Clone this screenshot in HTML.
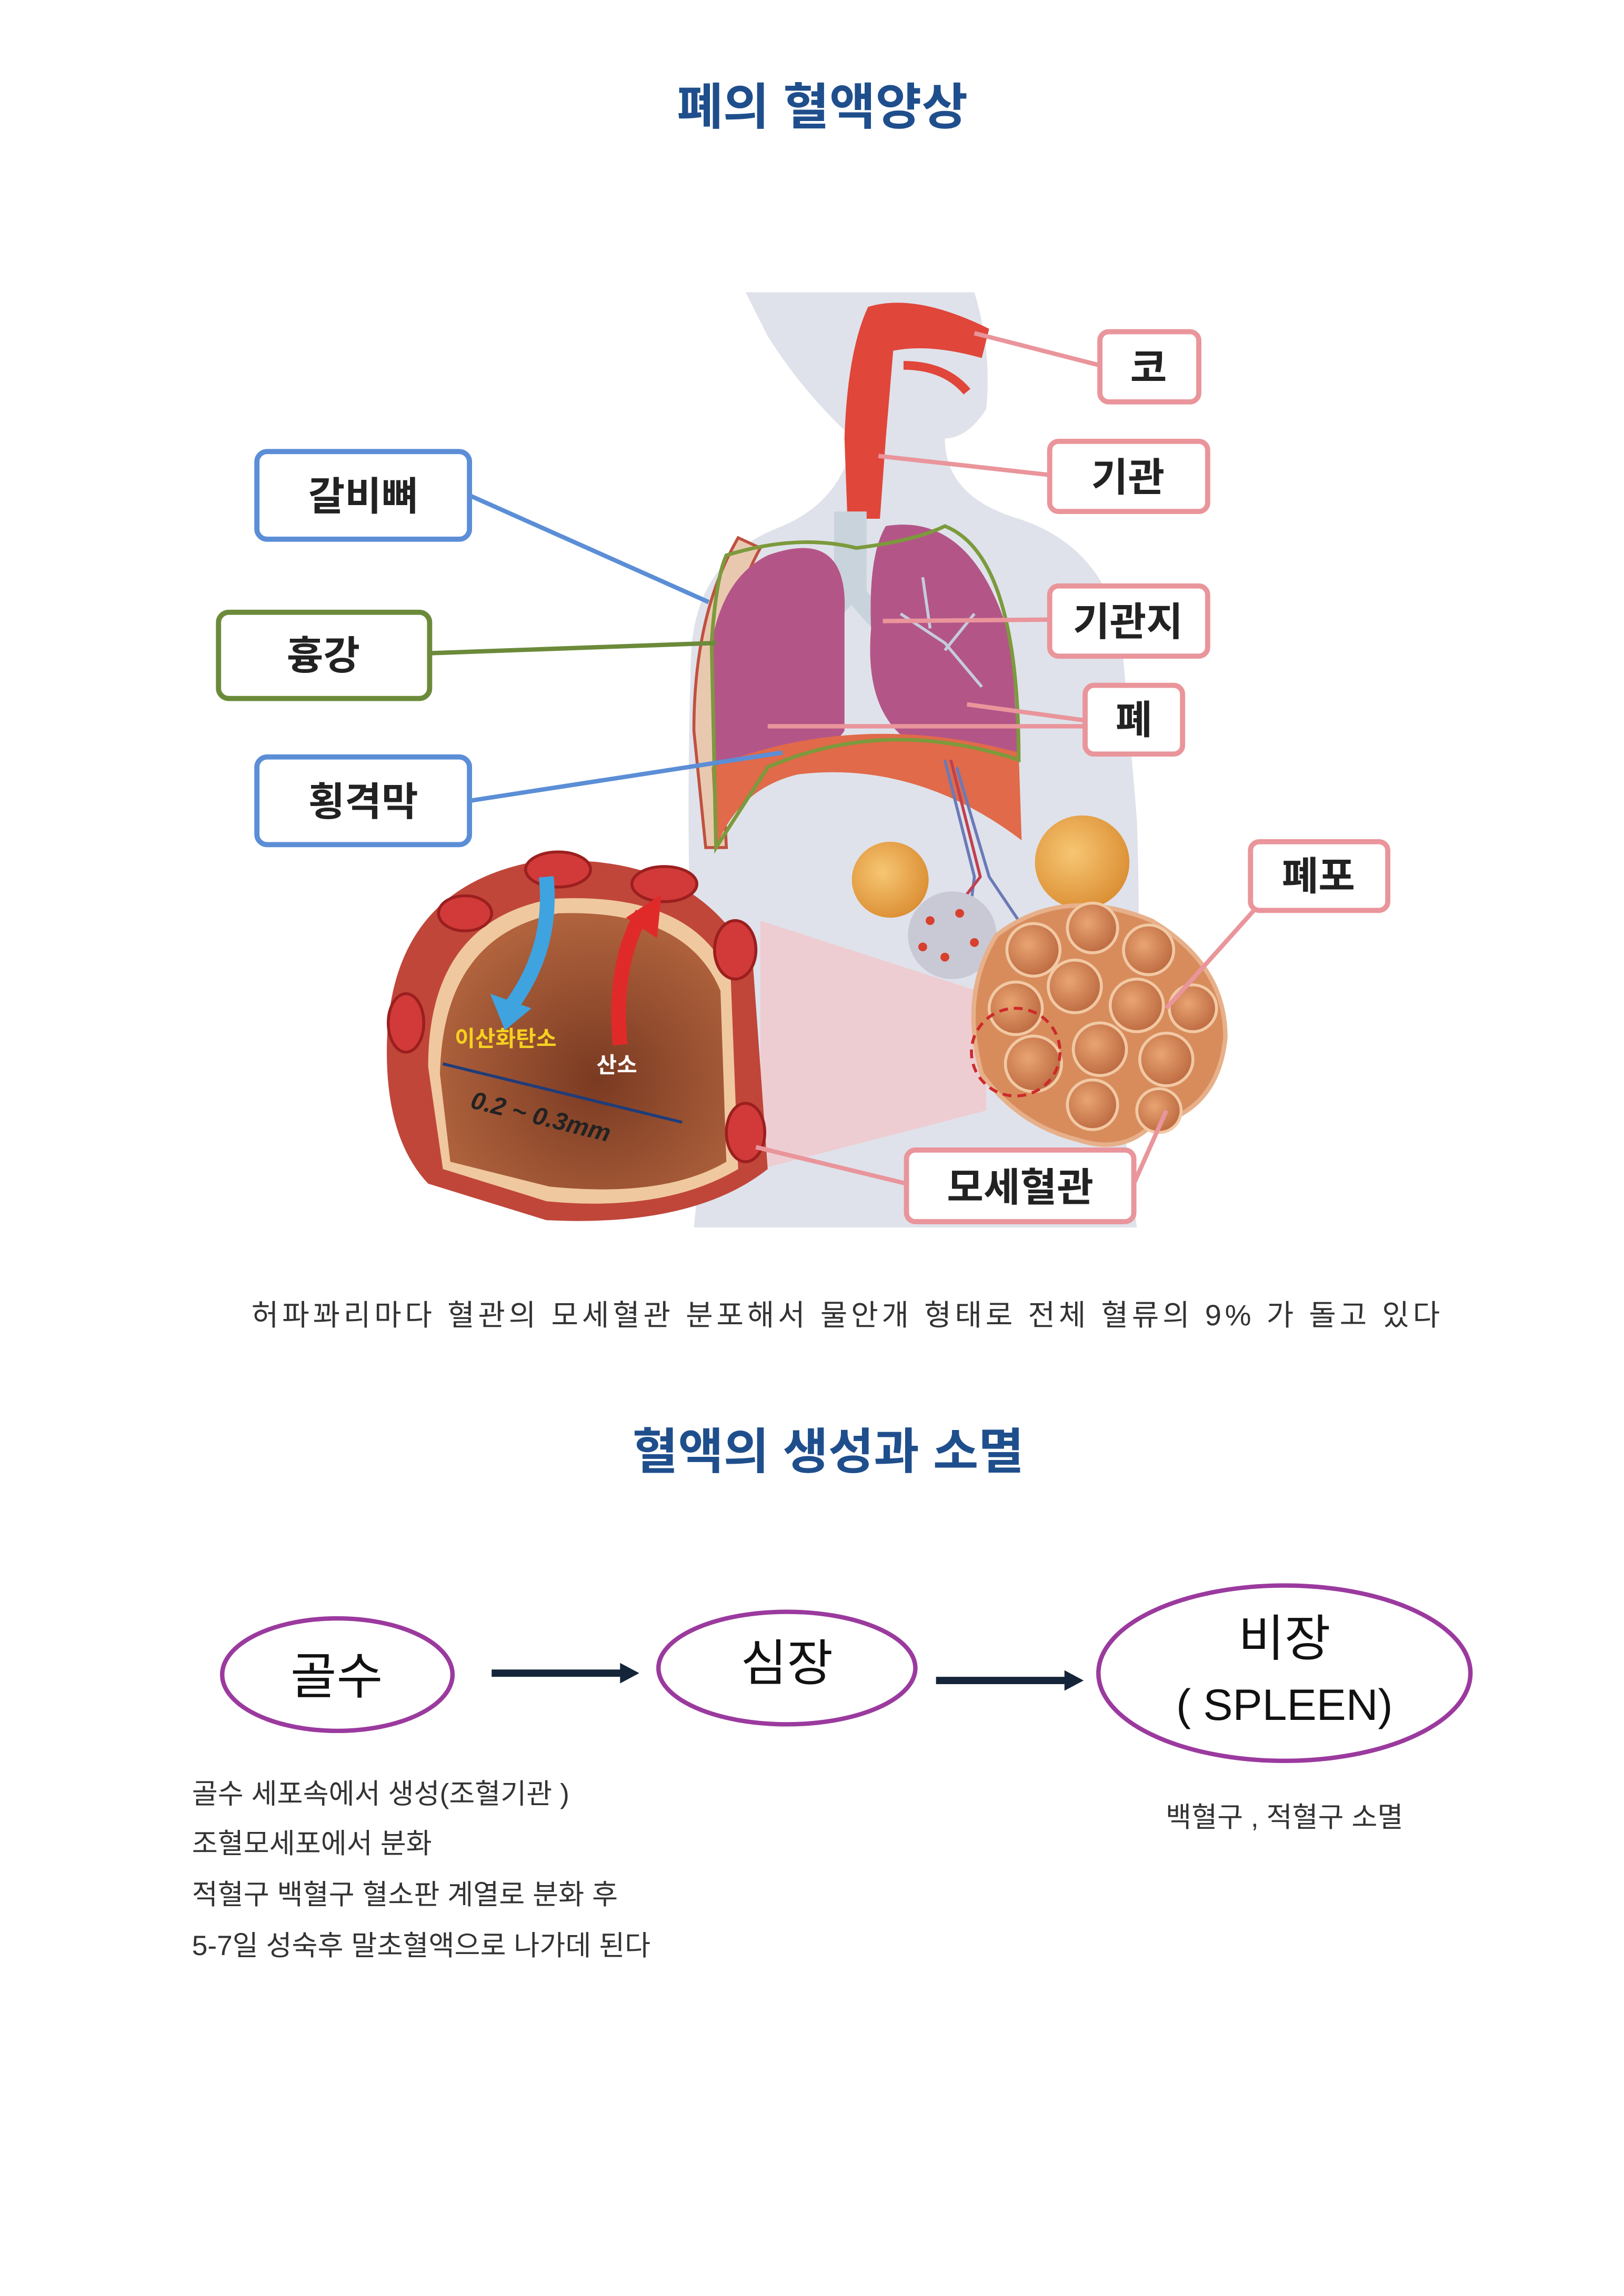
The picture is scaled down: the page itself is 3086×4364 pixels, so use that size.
<!DOCTYPE html>
<html><head><meta charset="utf-8"><style>
html,body{margin:0;padding:0;background:#fff;}
svg{display:block}
text{font-family:"Liberation Sans","Noto Sans CJK KR",sans-serif;}
</style></head><body>
<svg width="3086" height="4364" viewBox="0 0 1100 1555.5" xmlns="http://www.w3.org/2000/svg">
<rect width="1100" height="1556" fill="#fff"/>
<defs>
<radialGradient id="dome" cx="0.55" cy="0.6" r="0.6"><stop offset="0" stop-color="#7a3a22"/><stop offset="1" stop-color="#b0633d"/></radialGradient>
<radialGradient id="alv" cx="0.4" cy="0.4" r="0.7"><stop offset="0" stop-color="#e9a472"/><stop offset="1" stop-color="#b8643b"/></radialGradient>
<radialGradient id="yel" cx="0.4" cy="0.4" r="0.7"><stop offset="0" stop-color="#f7c673"/><stop offset="1" stop-color="#d98a2e"/></radialGradient>
</defs>
<g transform="scale(1,0.99)">
<text x="557" y="85" font-size="34" font-weight="bold" fill="#1f4e8c" text-anchor="middle">폐의 혈액양상</text>

<!-- body silhouette -->
<path d="M505 200 L660 200 Q672 240 668 280 Q655 300 640 300 Q640 340 690 355 Q750 375 760 440 L770 560 Q775 700 760 760 L770 840 L470 840 L478 760 Q462 650 468 450 Q470 385 525 362 Q570 345 578 300 Q545 270 520 230 Z" fill="#dfe2ea"/>
<path d="M588 210 Q620 200 670 225 L665 245 Q630 235 605 240 L600 300 L596 355 L574 355 L572 300 Q574 240 588 210 Z" fill="#e0463a"/>
<path d="M612 250 Q640 250 655 268" stroke="#e0463a" stroke-width="6" fill="none"/>
<rect x="565" y="350" width="22" height="60" fill="#c9d3dc"/>
<path d="M575 405 L545 440 M578 405 L600 430" stroke="#c9d3dc" stroke-width="14"/>
<path d="M500 368 Q470 420 470 500 L478 580 L492 580 L488 500 Q490 420 515 375 Z" fill="#e8c9b0" stroke="#c05040" stroke-width="2"/>
<path d="M520 380 Q575 360 572 420 L572 500 Q560 520 485 525 L482 440 Q490 395 520 380 Z" fill="#b45588"/>
<path d="M600 360 Q660 350 685 440 L690 520 L620 510 Q585 490 590 430 Q588 380 600 360 Z" fill="#b45588"/>
<path d="M610 420 L640 440 L665 470 M630 430 L625 395 M640 445 L660 420" stroke="#c5ccdc" stroke-width="2" fill="none"/>
<path d="M482 525 Q580 485 690 515 L692 575 Q620 520 540 530 Q500 540 485 580 Z" fill="#e06a4a"/>
<path d="M492 380 Q540 365 580 375 Q620 370 640 360 Q690 380 690 520 Q600 490 520 525 L485 580 L482 440 Q485 395 492 380 Z" fill="none" stroke="#7c9a3c" stroke-width="2.5"/>
<path d="M640 520 L660 600 L655 640 M648 525 L670 600 L690 630" stroke="#6a7ab8" stroke-width="2" fill="none"/>
<path d="M644 520 L664 600 L645 625" stroke="#c04050" stroke-width="2" fill="none"/>
<polygon points="515,630 668,680 668,760 515,800" fill="#f4c5c8" opacity="0.7"/>
<circle cx="603" cy="602" r="26" fill="url(#yel)"/>
<circle cx="733" cy="590" r="32" fill="url(#yel)"/>
<circle cx="645" cy="640" r="30" fill="#c9c9d6"/>
<g fill="#d8402e"><circle cx="630" cy="630" r="3"/><circle cx="650" cy="625" r="3"/><circle cx="660" cy="645" r="3"/><circle cx="640" cy="655" r="3"/><circle cx="625" cy="648" r="3"/></g>
<path d="M675 640 Q720 605 780 630 Q830 660 830 710 Q825 760 780 770 Q760 790 730 780 Q690 770 665 735 Q650 680 675 640 Z" fill="#d88c5c" stroke="#e7b08a" stroke-width="3"/>
<g fill="url(#alv)" stroke="#f1c9a4" stroke-width="2">
<circle cx="700" cy="650" r="18"/><circle cx="740" cy="635" r="17"/><circle cx="778" cy="650" r="17"/>
<circle cx="688" cy="690" r="18"/><circle cx="728" cy="675" r="18"/><circle cx="770" cy="688" r="18"/><circle cx="808" cy="690" r="16"/>
<circle cx="700" cy="728" r="19"/><circle cx="745" cy="718" r="18"/><circle cx="790" cy="725" r="18"/>
<circle cx="740" cy="756" r="17"/><circle cx="785" cy="760" r="15"/>
</g>
<ellipse cx="688" cy="720" rx="30" ry="30" fill="none" stroke="#cc2a2a" stroke-width="2" stroke-dasharray="6,4"/>
<path d="M262 720 Q262 610 360 590 Q470 580 510 660 L520 800 Q470 840 370 835 L290 810 Q262 780 262 720 Z" fill="#c0463a"/>
<path d="M290 730 Q290 630 375 615 Q470 610 495 670 L500 800 Q450 830 370 822 L300 800 Z" fill="#f0c8a0"/>
<path d="M298 735 Q300 640 378 625 Q465 622 488 678 L492 795 Q450 820 372 812 L305 795 Z" fill="url(#dome)"/>
<g fill="#d23a3a" stroke="#9c1f1f" stroke-width="2">
<ellipse cx="378" cy="595" rx="22" ry="12"/><ellipse cx="450" cy="605" rx="22" ry="12"/><ellipse cx="498" cy="650" rx="14" ry="20"/>
<ellipse cx="315" cy="625" rx="18" ry="12"/><ellipse cx="275" cy="700" rx="12" ry="20"/><ellipse cx="505" cy="775" rx="13" ry="20"/>
</g>
<path d="M370 600 Q375 650 345 690" stroke="#3fa3e0" stroke-width="10" fill="none"/>
<polygon points="332,680 360,690 342,705" fill="#3fa3e0"/>
<path d="M420 715 Q415 660 435 625" stroke="#e02a2a" stroke-width="10" fill="none"/>
<polygon points="424,628 448,612 445,642" fill="#e02a2a"/>
<text x="308" y="716" font-size="15" font-weight="bold" fill="#f5d020">이산화탄소</text>
<text x="404" y="734" font-size="15" font-weight="bold" fill="#fff">산소</text>
<line x1="300" y1="728" x2="462" y2="768" stroke="#1f3c7a" stroke-width="2"/>
<text x="318" y="758" font-size="17" font-weight="bold" font-style="italic" fill="#222" transform="rotate(14 318 758)">0.2 ~ 0.3mm</text>

<g fill="#fff" stroke-width="3.5">
<rect x="174" y="309" width="144" height="60" rx="7" stroke="#5b8ed6"/>
<rect x="148" y="419" width="143" height="59" rx="7" stroke="#6b8a3a"/>
<rect x="174" y="518" width="144" height="60" rx="7" stroke="#5b8ed6"/>
</g>
<line x1="318" y1="339" x2="480" y2="412" stroke="#5b8ed6" stroke-width="3"/>
<line x1="291" y1="447" x2="485" y2="440" stroke="#6b8a3a" stroke-width="3"/>
<line x1="318" y1="548" x2="530" y2="515" stroke="#5b8ed6" stroke-width="3"/>
<g font-size="27" font-weight="bold" fill="#222" text-anchor="middle">
<text x="246" y="349">갈비뼈</text><text x="219" y="458">흉강</text><text x="246" y="558">횡격막</text>
</g>
<g stroke="#e9959b" stroke-width="3" fill="none">
<line x1="660" y1="228" x2="745" y2="250"/>
<line x1="595" y1="312" x2="711" y2="325"/>
<line x1="598" y1="425" x2="711" y2="424"/>
<line x1="520" y1="497" x2="735" y2="497"/><line x1="655" y1="482" x2="735" y2="493"/>
<line x1="790" y1="690" x2="852" y2="620"/>
<line x1="512" y1="785" x2="614" y2="810"/>
<line x1="768" y1="810" x2="790" y2="760"/>
</g>
<g fill="#fff" stroke="#e9959b" stroke-width="3.5">
<rect x="745" y="227" width="67" height="48" rx="6"/>
<rect x="711" y="302" width="107" height="48" rx="6"/>
<rect x="711" y="401" width="107" height="48" rx="6"/>
<rect x="735" y="469" width="66" height="47" rx="6"/>
<rect x="847" y="576" width="93" height="47" rx="6"/>
<rect x="614" y="787" width="154" height="49" rx="6"/>
</g>
<g font-size="27" font-weight="bold" fill="#222" text-anchor="middle">
<text x="778" y="261">코</text><text x="764" y="336">기관</text><text x="764" y="435">기관지</text>
<text x="768" y="502">폐</text><text x="893" y="609">폐포</text><text x="691" y="822">모세혈관</text>
</g>

<text x="574" y="907" font-size="20" fill="#333" text-anchor="middle" letter-spacing="2.4">허파꽈리마다 혈관의 모세혈관 분포해서 물안개 형태로  전체 혈류의 9% 가 돌고 있다</text>

<text x="561" y="1005" font-size="33.5" font-weight="bold" fill="#1f4e8c" text-anchor="middle">혈액의 생성과 소멸</text>

<g fill="none" stroke="#9b3a9e" stroke-width="3">
<ellipse cx="228.5" cy="1146" rx="78" ry="38.5"/>
<ellipse cx="533" cy="1141.5" rx="87" ry="38.5"/>
<ellipse cx="870" cy="1145" rx="126" ry="60"/>
</g>
<g stroke="#14253a" stroke-width="5"><line x1="333" y1="1145" x2="422" y2="1145"/><line x1="634" y1="1150" x2="723" y2="1150"/></g>
<polygon points="420,1138 433,1145 420,1152" fill="#14253a"/>
<polygon points="721,1143 734,1150 721,1157" fill="#14253a"/>
<g font-size="34" fill="#111" text-anchor="middle">
<text x="228" y="1159">골수</text><text x="533" y="1150">심장</text>
<text x="870" y="1133">비장</text><text x="870" y="1177" font-size="30">( SPLEEN)</text>
</g>
<g font-size="19" fill="#333">
<text x="130" y="1234">골수 세포속에서 생성(조혈기관 )</text>
<text x="130" y="1268">조혈모세포에서 분화</text>
<text x="130" y="1303">적혈구 백혈구 혈소판 계열로 분화 후</text>
<text x="130" y="1338">5-7일 성숙후  말초혈액으로 나가데 된다</text>
<text x="870" y="1250" text-anchor="middle">백혈구 , 적혈구 소멸</text>
</g>
</g>
</svg>
</body></html>
